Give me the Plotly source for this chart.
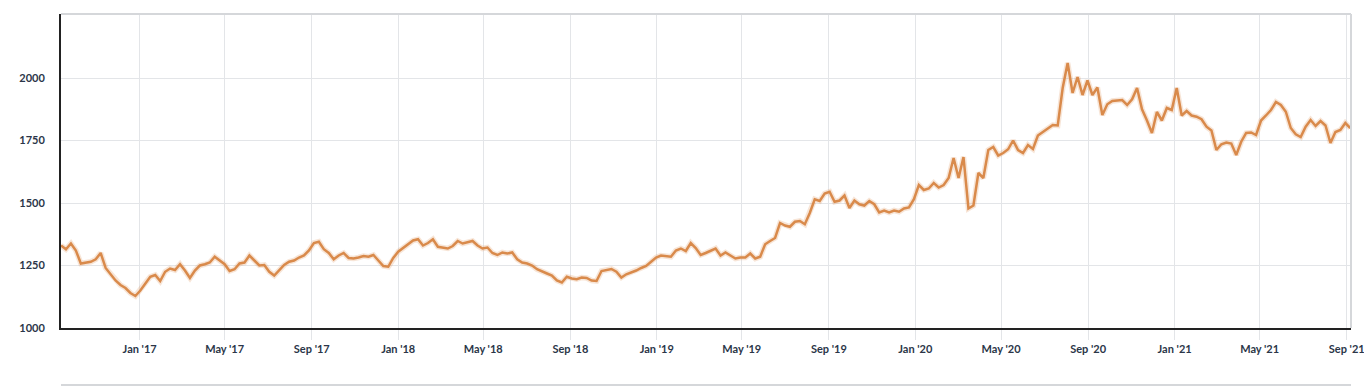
import pandas as pd
import plotly.graph_objects as go

start_date = "2016-09-12"
prices = [
    1330, 1315, 1338, 1310, 1258, 1262, 1265, 1275, 1300, 1240,
    1215, 1190, 1172, 1160, 1140, 1128, 1150, 1180, 1205, 1212,
    1188, 1225, 1238, 1232, 1255, 1230, 1200, 1230, 1250, 1255,
    1262, 1285, 1270, 1255, 1228, 1235, 1258, 1262, 1290, 1270,
    1250, 1252, 1225, 1210, 1232, 1252, 1265, 1270, 1282, 1290,
    1310, 1340, 1345, 1315, 1300, 1275, 1290, 1300, 1280, 1278,
    1282, 1288, 1285, 1292, 1270, 1248, 1245, 1280, 1305, 1320,
    1338, 1350, 1355, 1330, 1340, 1355, 1325, 1322, 1318, 1328,
    1348, 1338, 1342, 1348, 1330, 1318, 1322, 1300, 1292, 1302,
    1298, 1302, 1275, 1262, 1258, 1250, 1235, 1225, 1218, 1210,
    1190, 1182, 1205, 1198, 1195, 1202, 1200, 1190, 1188, 1228,
    1232, 1236, 1225, 1202, 1215, 1222, 1230, 1240, 1248, 1265,
    1282, 1290, 1288, 1285, 1310, 1318, 1308, 1340, 1320, 1292,
    1300, 1310, 1318, 1290, 1302, 1290, 1278, 1282, 1282, 1298,
    1278, 1285, 1335, 1348, 1360, 1420, 1410, 1405, 1425, 1428,
    1415, 1460, 1515, 1508, 1538, 1545, 1505, 1510, 1530, 1480,
    1510, 1495, 1490, 1508, 1495, 1462, 1470, 1462, 1470, 1465,
    1478, 1482, 1515, 1572, 1552, 1558, 1580, 1562, 1572, 1600,
    1680, 1600, 1684, 1478, 1490, 1620, 1600, 1712, 1724, 1690,
    1700, 1715, 1750, 1712, 1700, 1732, 1716, 1770, 1784, 1800,
    1812, 1810, 1960, 2060, 1940, 2004, 1932, 1990, 1932, 1962,
    1852, 1895, 1908, 1910, 1912, 1892, 1915, 1960, 1875, 1830,
    1780, 1864, 1830, 1880, 1872, 1960, 1850, 1868, 1850, 1845,
    1835, 1805, 1790, 1712, 1735, 1742, 1738, 1692, 1745, 1780,
    1782, 1772, 1830, 1850, 1872, 1904, 1892, 1865, 1800, 1775,
    1764, 1805, 1832, 1808, 1828, 1810, 1740, 1784, 1792, 1820,
    1800,
]
dates = pd.date_range(start_date, periods=len(prices), freq="7D")

tick_dates = ["2017-01-01", "2017-05-01", "2017-09-01", "2018-01-01", "2018-05-01",
              "2018-09-01", "2019-01-01", "2019-05-01", "2019-09-01", "2020-01-01",
              "2020-05-01", "2020-09-01", "2021-01-01", "2021-05-01", "2021-09-01"]
tick_labels = ["Jan '17", "May '17", "Sep '17", "Jan '18", "May '18",
               "Sep '18", "Jan '19", "May '19", "Sep '19", "Jan '20",
               "May '20", "Sep '20", "Jan '21", "May '21", "Sep '21"]
y_ticks = [1000, 1250, 1500, 1750, 2000]

LINE = "#D98A4B"
TXT = "#2B3648"
GRID = "#E3E5E8"

# page body has an 8px margin: figure is sized/margined to compensate
W, H = 1364, 378
L, R, T, B = 53, 21, 6, 58
PW, PH = W - L - R, H - T - B

fig = go.Figure()
fig.add_trace(go.Scatter(x=dates, y=prices, mode="lines",
                         line=dict(color="rgba(217,138,75,0.22)", width=5.5),
                         hoverinfo="skip", showlegend=False))
fig.add_trace(go.Scatter(x=dates, y=prices, mode="lines",
                         line=dict(color=LINE, width=2.5), showlegend=False))

tf = dict(family="Lato, sans-serif", size=11, color=TXT, weight="bold")

fig.update_layout(
    width=W, height=H,
    margin=dict(l=L, r=R, t=T, b=B),
    paper_bgcolor="white", plot_bgcolor="white",
    font=dict(family="Lato, Roboto, sans-serif", size=11, color=TXT),
    xaxis=dict(
        range=["2016-09-12", "2021-09-07"],
        tickvals=tick_dates, ticktext=tick_labels,
        showgrid=True, gridcolor=GRID, gridwidth=1,
        ticks="outside", ticklen=10, tickcolor=GRID,
        showline=True, linecolor="#222222", linewidth=2,
        tickfont=tf, zeroline=False,
    ),
    yaxis=dict(
        range=[1000, 2256],
        tickvals=y_ticks, ticktext=[str(v) for v in y_ticks],
        showgrid=True, gridcolor=GRID, gridwidth=1,
        ticks="", ticklabelstandoff=12,
        showline=True, linecolor="#222222", linewidth=2,
        tickfont=tf, zeroline=False,
    ),
    shapes=[
        dict(type="line", xref="paper", yref="paper", x0=0, x1=1, y0=1, y1=1,
             line=dict(color="#D5D7DA", width=2)),
        dict(type="line", xref="paper", yref="paper", x0=1, x1=1, y0=0, y1=1,
             line=dict(color="#D5D7DA", width=2)),
        dict(type="line", xref="paper", yref="paper", x0=0, x1=1,
             y0=-(H - 1 - (T + PH)) / PH, y1=-(H - 1 - (T + PH)) / PH,
             line=dict(color="#D5D7DA", width=2)),
    ],
)

fig.write_html("out.html")
